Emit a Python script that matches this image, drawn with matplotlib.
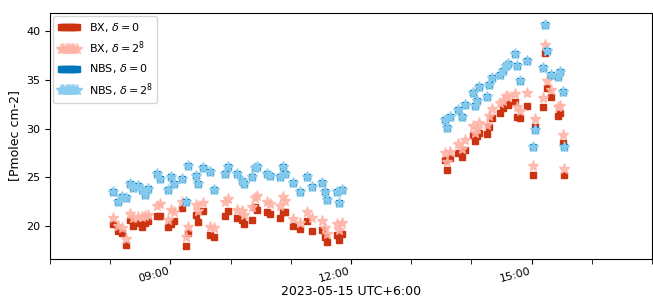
import matplotlib
matplotlib.use("Agg")
import matplotlib.pyplot as plt
import matplotlib.dates as mdates
import numpy as np
import pandas as pd

plt.rcParams['font.size'] = 8
plt.rcParams['axes.labelsize'] = 9

# observation times (local, UTC+6)
times = ["08:03", "08:08", "08:12", "08:16", "08:20", "08:23", "08:28", "08:32", "08:35", "08:38",
         "08:47", "08:50", "08:58", "09:01", "09:04", "09:12", "09:16", "09:18", "09:26", "09:28",
         "09:32", "09:39", "09:43", "09:54", "09:57", "10:06", "10:11", "10:13", "10:21", "10:24",
         "10:26", "10:36", "10:39", "10:49", "10:52", "10:54", "11:02", "11:09", "11:16", "11:21",
         "11:31", "11:34", "11:36", "11:46", "11:48", "11:51",
         "13:34", "13:36", "13:39", "13:47", "13:51", "13:54", "14:02", "14:04", "14:06", "14:08",
         "14:16", "14:18", "14:21", "14:29", "14:31", "14:34", "14:36", "14:43", "14:45", "14:48",
         "14:55", "15:01", "15:03", "15:11", "15:13", "15:15", "15:19", "15:26", "15:28", "15:31",
         "15:32"]

nbs = [23.5, 22.5, 23.0, 22.9, 24.3, 23.9, 24.1, 23.7, 23.2, 23.8,
       25.3, 24.8, 23.7, 25.0, 24.3, 24.8, 22.5, 26.2, 25.1, 24.3,
       26.0, 25.5, 23.7, 25.3, 26.1, 25.3, 24.6, 24.3, 25.0, 26.0,
       26.1, 25.3, 25.1, 25.0, 26.1, 25.3, 24.4, 23.5, 25.0, 24.0,
       24.4, 23.5, 22.7, 23.5, 22.4, 23.7,
       30.9, 30.1, 31.2, 31.9, 31.2, 32.4, 33.7, 32.3, 32.8, 34.3,
       33.3, 34.5, 35.2, 35.5, 35.9, 36.5, 36.7, 37.7, 36.5, 34.9,
       37.0, 28.1, 29.9, 36.2, 40.7, 38.0, 35.5, 35.3, 35.8, 33.8,
       28.1]

bx = [20.2, 19.5, 19.3, 18.0, 20.6, 20.0, 20.3, 19.9, 20.3, 20.5,
      21.0, 21.0, 19.9, 20.2, 20.5, 21.8, 17.9, 19.3, 21.1, 20.4,
      21.5, 19.1, 18.9, 21.0, 21.5, 20.8, 20.6, 20.2, 20.6, 21.9,
      21.6, 21.4, 21.2, 20.8, 21.4, 21.4, 20.0, 19.7, 20.5, 19.5,
      19.6, 18.9, 18.3, 19.1, 18.6, 19.2,
      26.8, 25.8, 27.0, 27.5, 27.1, 27.8, 29.4, 28.7, 29.2, 29.6,
      29.5, 30.2, 31.1, 31.6, 32.1, 32.6, 32.4, 32.7, 31.2, 31.1,
      32.3, 25.2, 30.2, 32.2, 37.8, 34.2, 33.3, 31.3, 31.6, 28.5,
      25.2]

bx_256 = [20.8, 20.0, 19.8, 18.7, 21.2, 20.8, 20.9, 20.9, 21.0, 21.1,
          22.0, 22.3, 20.6, 21.6, 21.4, 22.5, 18.9, 19.9, 22.2, 21.5,
          22.4, 19.9, 19.8, 22.5, 22.8, 21.6, 21.5, 21.1, 21.9, 22.9,
          23.1, 22.5, 22.3, 22.1, 23.0, 22.6, 20.7, 20.3, 21.4, 20.8,
          20.5, 19.8, 19.2, 20.2, 19.6, 20.3,
          27.5, 26.6, 27.6, 28.4, 27.9, 28.8, 30.3, 29.6, 30.0, 30.6,
          30.4, 31.3, 32.0, 32.6, 32.9, 33.4, 33.3, 33.6, 32.2, 31.8,
          33.7, 26.2, 31.0, 33.2, 38.6, 34.9, 34.0, 32.2, 32.3, 29.4,
          25.9]

nbs_256 = nbs

t = pd.to_datetime(["2023-05-15 " + s for s in times])

fig = plt.figure(figsize=(6.53, 3.0), dpi=100)
ax = fig.add_axes([50 / 653, 41 / 300, 602 / 653, 246 / 300])

ax.plot(t, bx, ls='none', marker='s', ms=5, color='#cc3311', label=r'BX, $\delta=0$')
ax.plot(t, bx_256, ls='none', marker='*', ms=8, color='#ffb3a6', alpha=0.85, label=r'BX, $\delta=2^8$')
ax.plot(t, nbs, ls='none', marker='s', ms=5, color='#0077bb', label=r'NBS, $\delta=0$')
ax.plot(t, nbs_256, ls='none', marker='*', ms=8, color='#88ccee', alpha=0.95, label=r'NBS, $\delta=2^8$')

ax.set_xlim(pd.Timestamp("2023-05-15 07:00"), pd.Timestamp("2023-05-15 17:00"))
ax.set_ylim(16.6, 41.9)
ax.set_yticks([20, 25, 30, 35, 40])

ax.xaxis.set_major_locator(mdates.HourLocator(byhour=[9, 12, 15]))
ax.xaxis.set_major_formatter(mdates.DateFormatter('%H:%M'))
ax.xaxis.set_minor_locator(mdates.HourLocator())
ax.tick_params(axis='x', which='minor', length=3.5)
ax.tick_params(axis='x', which='major', pad=1.5)
for lab in ax.get_xticklabels():
    lab.set_rotation(15)
    lab.set_ha('right')

ax.set_xlabel('2023-05-15 UTC+6:00', labelpad=1)
ax.set_ylabel('[Pmolec cm-2]')

ax.legend(loc='upper left', numpoints=8, borderaxespad=0.3)

fig.savefig('out.png', dpi=100)
